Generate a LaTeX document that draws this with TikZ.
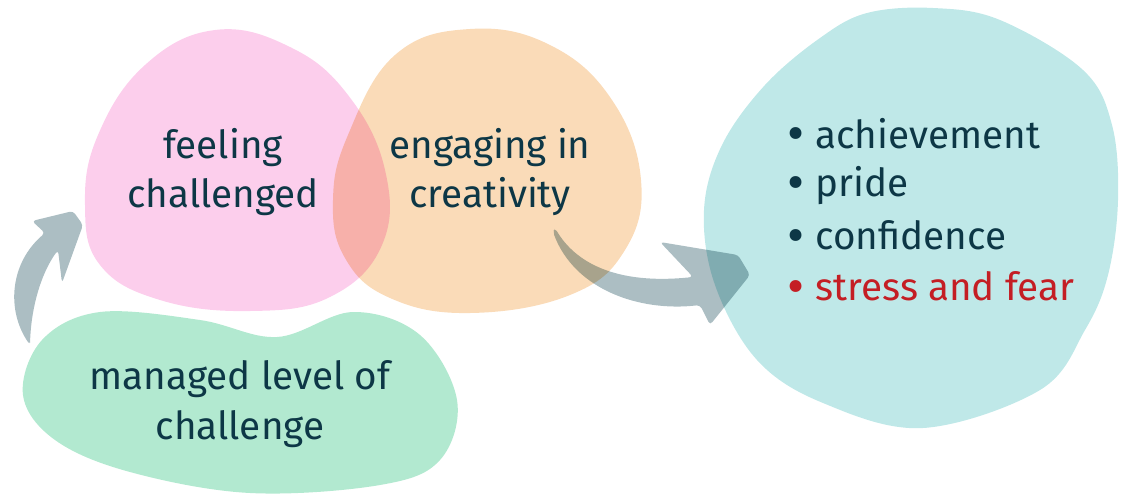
\documentclass[tikz,border=0pt]{standalone}
\usepackage{fontspec}
\setmainfont{Fira Sans}
\definecolor{ink}{RGB}{13,55,70}
\definecolor{alarm}{RGB}{196,30,36}
\definecolor{pinkblob}{RGB}{252,206,236}
\definecolor{orangeblob}{RGB}{250,219,184}
\definecolor{tealblob}{RGB}{191,232,232}
\definecolor{greenblob}{RGB}{178,233,208}
\definecolor{arrowgray}{RGB}{172,190,195}
\newcommand{\bul}{\makebox[16pt][l]{\raisebox{-1.8pt}{\fontsize{30}{30}\selectfont\textbullet}}}
\begin{document}
\begin{tikzpicture}[x=0.02cm, y=-0.02cm,
    lbl/.style={text=ink, font=\fontsize{22}{28.35}\selectfont, align=center, inner sep=0pt},
    item/.style={text=ink, font=\fontsize{22}{28.35}\selectfont, anchor=west, inner sep=0pt},
    blendfill/.style={fill=#1, blend mode=multiply}]
        \useasboundingbox (0,0) rectangle (1121,497);
        % blobs
        \fill[pinkblob] plot[smooth cycle, tension=0.7] coordinates {(215,30) (290,47) (348,95) (385,170) (382,245) (330,297) (250,311) (160,300) (100,265) (85,205) (98,135) (145,65)};
        \fill[blendfill=orangeblob] plot[smooth cycle, tension=0.7] coordinates {(470,29) (550,45) (612,100) (641,180) (625,250) (570,295) (470,313) (390,298) (345,258) (333,200) (348,135) (395,55)};
        \fill[tealblob] plot[smooth cycle, tension=0.6] coordinates {(933,8) (1000,20) (1083,70) (1112,125) (1118,200) (1108,275) (1085,330) (1040,390) (923,428) (823,403) (757,360) (715,285) (704,210) (722,145) (765,85) (820,38) (867,13)};
        \fill[greenblob] plot[smooth cycle, tension=0.6] coordinates {(23,395) (42,340) (100,312) (200,320) (277,337) (353,312) (420,335) (457,400) (440,460) (380,485) (250,493) (130,472) (55,440)};
        % texts
        \node[lbl] (feel) at (223,172) {feeling\\challenged};
        \node[lbl] (engage) at (490,172) {engaging in\\creativity};
        \node[lbl] (managed) at (240,404) {managed level of\\challenge};
        \node[item] (ach) at (787,135) {\bul achievement};
        \node[item] (pride) at (787,186) {\bul pride};
        \node[item] (conf) at (787,237) {\bul confidence};
        \node[item, text=alarm] (stress) at (787,288) {\bul stress and fear};
        % arrows
        \fill[blendfill=arrowgray, rounded corners=2pt] (30,345) .. controls (6,310) and (10,263) .. (45,233)
            -- (32,221) -- (73,211) -- (83,225) -- (62,283) -- (58,250)
            .. controls (40,275) and (31,310) .. (30,345) -- cycle;
        \fill[blendfill=arrowgray, rounded corners=2pt] (555,228) .. controls (575,262) and (615,285) .. (693,277)
            -- (660,242) -- (738,255) -- (750,275) -- (710,325) -- (700,305)
            .. controls (640,312) and (575,290) .. (553,232) -- cycle;
\end{tikzpicture}
\end{document}
